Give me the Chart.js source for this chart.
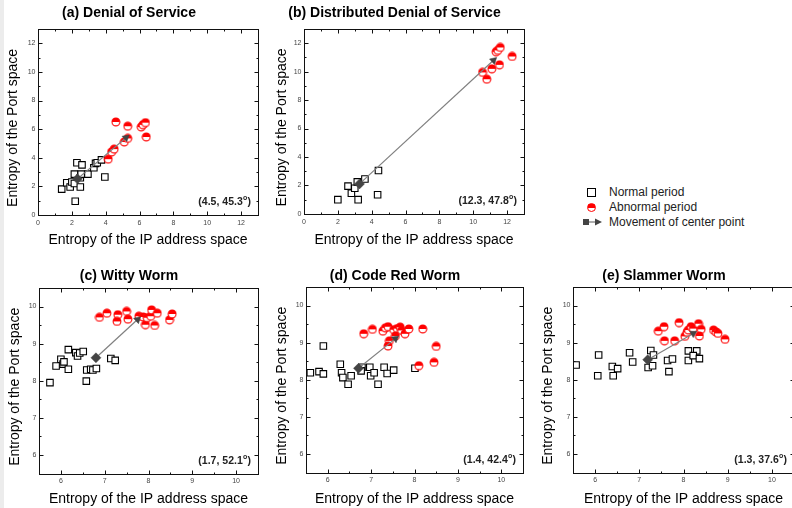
<!DOCTYPE html>
<html>
<head>
<meta charset="utf-8">
<script src="https://cdn.jsdelivr.net/npm/chart.js@4.4.0/dist/chart.umd.min.js"></script>
<style>
  html, body { margin: 0; padding: 0; background: #fff; }
  body { width: 792px; height: 508px; position: relative; overflow: hidden; font-family: "Liberation Sans", Arial, sans-serif; }
  canvas { position: absolute; }
  .strip { position: absolute; left: 0; top: 0; width: 4px; height: 508px; background: #ececec; }
  .lg { position: absolute; left: 609px; font-size: 12px; line-height: 14px; color: #222; white-space: nowrap; }
  .sq { position: absolute; left: 587px; width: 7px; height: 7px; border: 1.2px solid #000; background: #fff; }
  .ci { position: absolute; left: 587px; width: 7px; height: 7px; border: 1.2px solid #f00; border-radius: 50%;
        background: linear-gradient(#f00 50%, #fff 50%); }
</style>
</head>
<body>
<div class="strip"></div>

<div class="sq" style="top:188px"></div>
<div class="lg" style="top:185px">Normal period</div>
<div class="ci" style="top:203px"></div>
<div class="lg" style="top:200px">Abnormal period</div>
<svg style="position:absolute;left:582px;top:217px" width="22" height="10">
  <rect x="1" y="2" width="6" height="6" fill="#444"></rect>
  <line x1="7" y1="5" x2="14" y2="5" stroke="#777" stroke-width="1.2"></line>
  <polygon points="13,1.5 20,5 13,8.5" fill="#444"></polygon>
</svg>
<div class="lg" style="top:215px">Movement of center point</div>

<script>
var FONT = '"Liberation Sans", Arial, sans-serif';

// (a) Denial of Service
var aNormal = [[1.4,1.8],[1.7,2.25],[1.9,1.95],[2.0,2.3],[2.15,2.2],[2.15,2.85],[2.3,3.65],[2.5,1.95],
  [2.5,2.6],[2.55,2.85],[2.6,3.5],[2.95,2.85],[3.3,3.3],[3.4,3.6],[3.5,3.65],[3.75,3.85],[3.95,2.65],[2.2,0.95]];
var aAbnormal = [[4.15,3.9],[4.35,4.4],[4.5,4.6],[4.6,6.5],[5.1,5.1],[5.3,5.35],[5.3,6.2],[6.1,6.15],
  [6.2,6.3],[6.35,6.45],[6.4,5.45]];
var aMove = [[2.33,2.52],[5.2,5.4]];
var aNote = [4.5, 45.3];

// (b) Distributed Denial of Service
var bNormal = [[2.0,1.0],[2.6,1.95],[2.8,1.45],[3.0,1.8],[3.2,1.0],[3.15,2.25],[3.6,2.45],[4.35,1.35],[4.4,3.05]];
var bAbnormal = [[10.55,9.95],[10.8,9.47],[11.1,10.2],[11.55,10.48],[11.35,11.4],[11.45,11.5],[11.6,11.7],[12.3,11.07]];
var bMove = [[3.28,2.11],[11.2,10.8]];
var bNote = [12.3, 47.8];

// (c) Witty Worm
var cNormal = [[5.75,7.95],[5.89,8.4],[6.0,8.58],[6.05,8.45],[6.07,8.51],[6.17,8.84],[6.17,8.31],[6.34,8.76],
  [6.38,8.67],[6.43,8.75],[6.51,8.79],[6.59,8.29],[6.58,7.99],[6.68,8.31],[6.73,8.29],[6.81,8.33],[7.14,8.6],[7.24,8.55]];
var cAbnormal = [[6.88,9.71],[7.05,9.82],[7.3,9.78],[7.28,9.6],[7.5,9.87],[7.53,9.66],[7.78,9.74],[7.88,9.72],
  [7.93,9.51],[7.97,9.7],[8.05,9.74],[8.07,9.91],[8.2,9.82],[8.14,9.49],[8.48,9.64],[8.54,9.8]];
var cMove = [[6.8,8.62],[7.75,9.65]];
var cNote = [1.7, 52.1];

// (d) Code Red Worm
var dNormal = [[5.6,8.19],[5.8,8.22],[5.9,8.16],[5.9,8.91],[6.29,8.42],[6.32,8.19],[6.35,8.06],[6.54,8.11],
  [6.47,7.88],[6.79,8.34],[6.77,8.24],[6.97,8.34],[6.99,8.11],[7.07,8.19],[7.16,7.88],[7.3,8.34],[7.37,8.17],
  [7.52,8.26],[8.01,8.31]];
var dAbnormal = [[6.83,9.24],[7.03,9.36],[7.27,9.31],[7.33,9.4],[7.39,9.43],[7.52,9.35],[7.6,9.38],[7.67,9.42],
  [7.7,9.33],[7.78,9.24],[7.87,9.37],[8.19,9.37],[7.42,9.05],[7.39,8.91],[7.56,9.18],[8.5,8.9],[8.45,8.47],[8.1,8.38]];
var dMove = [[6.71,8.31],[7.56,9.11]];
var dNote = [1.4, 42.4];

// (e) Slammer Worm
var eNormal = [[5.57,8.4],[6.08,8.67],[6.06,8.11],[6.39,8.36],[6.51,8.3],[6.41,8.11],[6.78,8.73],[6.85,8.48],
  [7.26,8.79],[7.32,8.67],[7.2,8.33],[7.3,8.38],[7.64,8.52],[7.75,8.56],[7.67,8.22],[8.11,8.78],[8.3,8.78],
  [8.11,8.52],[8.22,8.65],[8.36,8.57]];
var eAbnormal = [[7.43,9.31],[7.56,9.43],[7.9,9.54],[7.57,9.05],[7.8,9.05],[8.03,9.17],[8.08,9.28],[8.11,9.34],
  [8.17,9.43],[8.22,9.38],[8.34,9.51],[8.4,9.36],[8.36,9.18],[8.68,9.34],[8.73,9.29],[8.78,9.25],[8.94,9.09]];
var eMove = [[7.19,8.54],[8.22,9.25]];
var eNote = [1.3, 37.6];

var ddosTicks = [0, 2, 4, 6, 8, 10, 12];
var wormTicks = [6, 7, 8, 9, 10];
var ddosRange = [0, 13];
var wormRange = [5.5, 10.5];

var xTitle = 'Entropy of the IP address space';
var yTitle = 'Entropy of the Port space';

// page layout of each panel (canvas box + plot box)
var panels = [
  { title: '(a) Denial of Service', normal: aNormal, abnormal: aAbnormal, move: aMove, note: aNote,
    ticks: ddosTicks, range: ddosRange, L: 0, T: 0, W: 273, plotL: 38, plotR: 258, plotT: 29, plotB: 215,
    titleCY: 13.3, yTitleCX: 13, xTitleCY: 240.7 },
  { title: '(b) Distributed Denial of Service', normal: bNormal, abnormal: bAbnormal, move: bMove, note: bNote,
    ticks: ddosTicks, range: ddosRange, L: 265, T: 0, W: 283, plotL: 304, plotR: 524, plotT: 29, plotB: 214,
    titleCY: 13.3, yTitleCX: 281.7, xTitleCY: 240.7 },
  { title: '(c) Witty Worm', normal: cNormal, abnormal: cAbnormal, move: cMove, note: cNote,
    ticks: wormTicks, range: wormRange, L: 0, T: 259, W: 293, plotL: 39, plotR: 258, plotT: 288, plotB: 474,
    titleCY: 276, yTitleCX: 15, xTitleCY: 500 },
  { title: '(d) Code Red Worm', normal: dNormal, abnormal: dAbnormal, move: dMove, note: dNote,
    ticks: wormTicks, range: wormRange, L: 267, T: 259, W: 305, plotL: 306, plotR: 523, plotT: 287, plotB: 473,
    titleCY: 276, yTitleCX: 281.7, xTitleCY: 500 },
  { title: '(e) Slammer Worm', normal: eNormal, abnormal: eAbnormal, move: eMove, note: eNote,
    ticks: wormTicks, range: wormRange, L: 534, T: 259, W: 315, plotL: 573, plotR: 794, plotT: 287, plotB: 473,
    titleCY: 276, yTitleCX: 548, xTitleCY: 500 }
];

// red "half up" circle marker
function halfCircle() {
  var c = document.createElement('canvas');
  c.width = 10; c.height = 10;
  var g = c.getContext('2d');
  g.beginPath(); g.arc(5, 5, 3.9, 0, Math.PI * 2); g.fillStyle = '#fff'; g.fill();
  g.beginPath(); g.arc(5, 5, 3.9, Math.PI, Math.PI * 2); g.closePath(); g.fillStyle = '#ff0000'; g.fill();
  g.beginPath(); g.arc(5, 5, 3.9, 0, Math.PI * 2); g.strokeStyle = '#ff0000'; g.lineWidth = 1.1; g.stroke();
  return c;
}
var redMark = halfCircle();

function pts(arr) {
  return arr.map(function (p) { return { x: p[0], y: p[1] }; });
}

// box with inward ticks on all four sides, the y title, and the (distance, angle) note
var framePlugin = {
  id: 'frame',
  afterDraw: function (chart) {
    var ctx = chart.ctx, a = chart.chartArea;
    var xs = chart.scales.x, ys = chart.scales.y;
    var opts = chart.options.plugins.frame;
    var l = Math.round(a.left) + 0.5, r = Math.round(a.right) + 0.5;
    var t = Math.round(a.top) + 0.5, b = Math.round(a.bottom) + 0.5;
    ctx.save();
    ctx.strokeStyle = '#111';
    ctx.lineWidth = 1;
    ctx.strokeRect(l, t, r - l, b - t);

    function marks(scale) {
      var vals = scale.ticks.map(function (k) { return k.value; });
      var step = vals[1] - vals[0];
      var out = [];
      vals.forEach(function (v) { out.push([v, 4]); });
      vals.forEach(function (v) { out.push([v + step / 2, 2]); });
      out.push([vals[0] - step / 2, 2]);
      return out.filter(function (m) { return m[0] > scale.min && m[0] < scale.max; });
    }
    ctx.beginPath();
    marks(xs).forEach(function (m) {
      var px = Math.round(xs.getPixelForValue(m[0])) + 0.5;
      ctx.moveTo(px, b); ctx.lineTo(px, b - m[1]);
      ctx.moveTo(px, t); ctx.lineTo(px, t + m[1]);
    });
    marks(ys).forEach(function (m) {
      var py = Math.round(ys.getPixelForValue(m[0])) + 0.5;
      ctx.moveTo(l, py); ctx.lineTo(l + m[1], py);
      ctx.moveTo(r, py); ctx.lineTo(r - m[1], py);
    });
    ctx.stroke();

    // y axis title, sitting a little below the plot's middle as in the original
    ctx.save();
    ctx.translate(opts.yTitleX, (a.top + a.bottom) / 2 + 6);
    ctx.rotate(-Math.PI / 2);
    ctx.font = '14px ' + FONT;
    ctx.fillStyle = '#000';
    ctx.textAlign = 'center';
    ctx.textBaseline = 'middle';
    ctx.fillText(yTitle, 0, 0);
    ctx.restore();

    var note = opts.note;
    if (note) {
      var big = 'bold 10.5px ' + FONT, small = 'bold 7px ' + FONT;
      var s1 = '(' + note[0].toFixed(1) + ', ' + note[1].toFixed(1), s2 = 'o', s3 = ')';
      ctx.font = big; var w1 = ctx.measureText(s1).width, w3 = ctx.measureText(s3).width;
      ctx.font = small; var w2 = ctx.measureText(s2).width;
      var x0 = a.right - 7.5 - (w1 + w2 + w3), y0 = a.bottom - 12.8;
      ctx.fillStyle = '#222';
      ctx.textBaseline = 'middle';
      ctx.textAlign = 'left';
      ctx.font = big; ctx.fillText(s1, x0, y0);
      ctx.font = small; ctx.fillText(s2, x0 + w1 + 0.3, y0 - 4);
      ctx.font = big; ctx.fillText(s3, x0 + w1 + w2 + 0.6, y0);
    }
    ctx.restore();
  }
};

panels.forEach(function (p) {
  var H = Math.round(p.xTitleCY + 10.4 - p.T);
  var cv = document.createElement('canvas');
  cv.width = p.W; cv.height = H;
  cv.style.left = p.L + 'px'; cv.style.top = p.T + 'px';
  document.body.appendChild(cv);

  var yW = p.plotL - p.L;
  var xH = (p.xTitleCY + 10.4) - p.plotB;
  var padTop = p.titleCY - p.T - 8.4;
  var padBottom = (p.plotT - p.T) - 16.8 - padTop;
  var move = p.move;

  var tickFont = { family: FONT, size: 7 };

  new Chart(cv, {
    type: 'scatter',
    data: {
      datasets: [
        {
          data: pts([move[1]]), pointStyle: 'triangle', pointRadius: 4.2, backgroundColor: '#444',
          borderColor: '#444', borderWidth: 0.5,
          rotation: function (ctx) {
            var xs = ctx.chart.scales.x, ys = ctx.chart.scales.y;
            var dx = xs.getPixelForValue(move[1][0]) - xs.getPixelForValue(move[0][0]);
            var dy = ys.getPixelForValue(move[1][1]) - ys.getPixelForValue(move[0][1]);
            return Math.atan2(dx, -dy) * 180 / Math.PI;
          }
        },
        {
          data: pts([move[0]]), pointStyle: 'rectRot', pointRadius: 5, backgroundColor: '#444',
          borderColor: '#444', borderWidth: 0.5
        },
        {
          data: pts(move), showLine: true, borderColor: '#808080', borderWidth: 1.2, pointRadius: 0
        },
        {
          data: pts(p.abnormal), pointStyle: redMark, pointRadius: 5
        },
        {
          data: pts(p.normal), pointStyle: 'rect', pointRadius: 4.6, backgroundColor: '#fff',
          borderColor: '#000', borderWidth: 1.1
        }
      ]
    },
    options: {
      responsive: false, animation: false, devicePixelRatio: 1,
      layout: { padding: { left: 0, top: 0, bottom: 0, right: p.L + p.W - p.plotR } },
      plugins: {
        legend: { display: false },
        tooltip: { enabled: false },
        title: {
          display: true, text: p.title, color: '#000',
          font: { family: FONT, size: 14, weight: 'bold' },
          padding: { top: padTop, bottom: padBottom }
        },
        frame: { note: p.note, yTitleX: p.yTitleCX - p.L }
      },
      scales: {
        x: {
          type: 'linear', min: p.range[0], max: p.range[1],
          afterBuildTicks: function (s) { s.ticks = p.ticks.map(function (v) { return { value: v }; }); },
          afterFit: function (s) { s.height = xH; },
          grid: { display: false, drawTicks: false },
          border: { display: false },
          ticks: { font: tickFont, color: '#444', padding: 3.5, maxRotation: 0 },
          title: { display: true, text: xTitle, color: '#000', font: { family: FONT, size: 14 },
                   padding: { top: 0, bottom: 2 } }
        },
        y: {
          type: 'linear', min: p.range[0], max: p.range[1],
          afterBuildTicks: function (s) { s.ticks = p.ticks.map(function (v) { return { value: v }; }); },
          afterFit: function (s) { s.width = yW; },
          grid: { display: false, drawTicks: false },
          border: { display: false },
          ticks: { font: tickFont, color: '#444', padding: 2.5 },
          title: { display: false }
        }
      }
    },
    plugins: [framePlugin]
  });
});
</script>
</body>
</html>
